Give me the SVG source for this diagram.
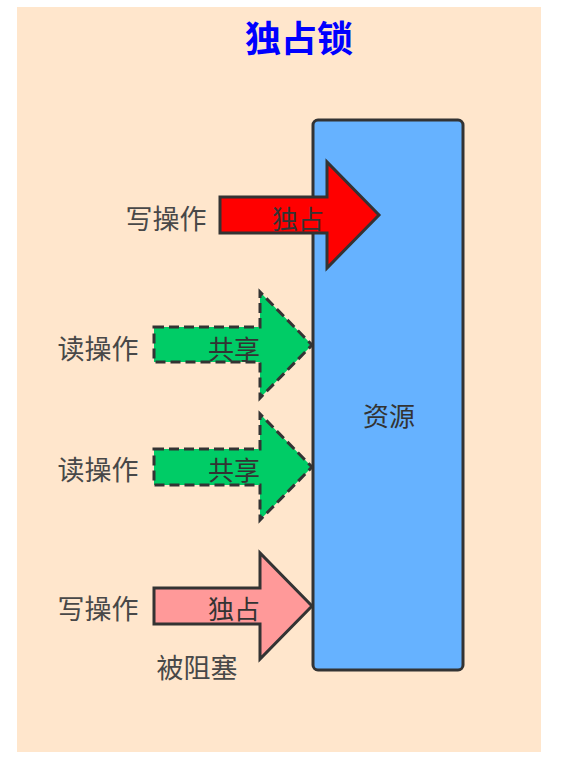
<svg xmlns="http://www.w3.org/2000/svg" width="573" height="758" viewBox="0 0 573 758">
<style>
text{font-family:"Noto Sans CJK SC","Liberation Sans",sans-serif;dominant-baseline:central;text-anchor:middle}
.lbl{font-size:27px;fill:#484848}
.in{font-size:26px;fill:#333}
.arrow{stroke:#333;stroke-width:3;stroke-linejoin:miter}
.dash{stroke-dasharray:10,5}
</style>
<rect x="0" y="0" width="573" height="758" fill="#ffffff"/>
<rect x="17" y="7" width="524" height="745" fill="#FFE6CC"/>
<text x="299" y="36" style="font-size:36px;font-weight:bold;fill:#0000FF">独占锁</text>
<g id="resource">
<rect x="313" y="120" width="150" height="550" rx="5" fill="#66B2FF" stroke="#333" stroke-width="3"/>
<text class="in" x="389" y="414">资源</text>
</g>
<g id="connectors">
<g id="arrow-write1">
<path class="arrow" d="M220,197 H327 V162 L379,215 L327,268 V233 H220 Z" fill="#FF0000"/>
<text class="in" x="298" y="217">独占</text>
</g>
<g id="arrow-read1">
<path class="arrow dash" d="M154,327 H260 V292 L312,345 L260,398 V362 H154 Z" fill="#00CC66"/>
<text class="in" x="234" y="347">共享</text>
</g>
<g id="arrow-read2">
<path class="arrow dash" d="M154,449 H260 V414 L312,467 L260,520 V485 H154 Z" fill="#00CC66"/>
<text class="in" x="234" y="468">共享</text>
</g>
<g id="arrow-write2">
<path class="arrow" d="M154,588 H260 V553 L312,606 L260,659 V624 H154 Z" fill="#FF9999"/>
<text class="in" x="234" y="607">独占</text>
</g>
</g>
<g id="label-write1"><text class="lbl" x="166" y="217">写操作</text></g>
<g id="label-read1"><text class="lbl" x="98" y="347">读操作</text></g>
<g id="label-read2"><text class="lbl" x="98" y="468">读操作</text></g>
<g id="label-write2"><text class="lbl" x="98" y="607">写操作</text></g>
<g id="label-blocked"><text class="lbl" x="197" y="666">被阻塞</text></g>
</svg>
